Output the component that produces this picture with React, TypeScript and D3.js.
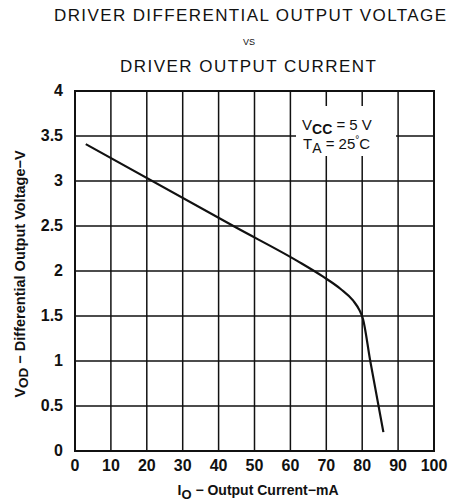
import React from "react";
import * as d3 from "d3";

const xTicks = [0, 10, 20, 30, 40, 50, 60, 70, 80, 90, 100];
const yTicks = [0, 0.5, 1, 1.5, 2, 2.5, 3, 3.5, 4];
const yTickLabels = ["0", "0.5", "1", "1.5", "2", "2.5", "3", "3.5", "4"];
const curveI = [3, 45, 62, 69, 74, 77.5, 79.3, 80.2, 82.2, 85.9];
const curveV = [3.41, 2.48, 2.11, 1.94, 1.8, 1.67, 1.56, 1.47, 1.01, 0.21];

const W = 451;
const H = 501;
const font = "'Liberation Sans', Arial, Helvetica, sans-serif";

export default function App() {
  const x = d3.scaleLinear().domain([0, 100]).range([75, 434]);
  const y = d3.scaleLinear().domain([0, 4]).range([451, 91]);
  const pts: [number, number][] = curveI.map((v, i) => [v, curveV[i]]);
  const line = d3
    .line<[number, number]>()
    .x((d) => x(d[0]))
    .y((d) => y(d[1]))
    .curve(d3.curveMonotoneX);

  return (
    <svg
      width={W}
      height={H}
      style={{ position: "absolute", left: 0, top: 0, background: "#fff" }}
      fontFamily={font}
    >
      <rect x={0} y={0} width={W} height={H} fill="#fff" />
      {/* Titles */}
      <text x={250} y={21} fontSize={17} textAnchor="middle" textLength={392} lengthAdjust="spacing" fill="#111">
        DRIVER DIFFERENTIAL OUTPUT VOLTAGE
      </text>
      <text x={249} y={45} fontSize={9} textAnchor="middle" fill="#111">
        VS
      </text>
      <text x={248} y={72} fontSize={17} textAnchor="middle" textLength={256} lengthAdjust="spacing" fill="#111">
        DRIVER OUTPUT CURRENT
      </text>

      {/* Grid */}
      {xTicks.map((t) => (
        <line key={"gx" + t} x1={x(t)} x2={x(t)} y1={y(4)} y2={y(0)} stroke="#111" strokeWidth={1.5} />
      ))}
      {yTicks.map((t) => (
        <line key={"gy" + t} x1={x(0)} x2={x(100)} y1={y(t)} y2={y(t)} stroke="#111" strokeWidth={1.5} />
      ))}
      <rect x={x(0)} y={y(4)} width={x(100) - x(0)} height={y(0) - y(4)} fill="none" stroke="#111" strokeWidth={2} />

      {/* Annotation background */}
      <rect x={296} y={106} width={100} height={50} fill="#fff" />
      <text x={302} y={130} fontSize={15} fill="#111">
        V<tspan fontSize={14} dy={4} fontWeight="bold">CC</tspan>
        <tspan dy={-4}> = 5 V</tspan>
      </text>
      <text x={303} y={149} fontSize={15} fill="#111">
        T<tspan fontSize={14} dy={4}>A</tspan>
        <tspan dy={-4}> = 25</tspan>
        <tspan fontSize={10} dy={-6}>°</tspan>
        <tspan dy={6}>C</tspan>
      </text>

      {/* Curve */}
      <path d={line(pts) || ""} fill="none" stroke="#111" strokeWidth={2.2} />

      {/* Y tick labels */}
      {yTicks.map((t, i) => (
        <text
          key={"yl" + t}
          x={63}
          y={y(t) + 5}
          fontSize={16}
          fontWeight="bold"
          textAnchor="end"
          fill="#111"
        >
          {yTickLabels[i]}
        </text>
      ))}
      {/* X tick labels */}
      {xTicks.map((t) => (
        <text
          key={"xl" + t}
          x={x(t)}
          y={471}
          fontSize={16}
          fontWeight="bold"
          textAnchor="middle"
          fill="#111"
        >
          {t}
        </text>
      ))}

      {/* Axis titles */}
      <text x={258} y={495} fontSize={14} fontWeight="bold" textAnchor="middle" fill="#111">
        I<tspan fontSize={13} dy={4}>O</tspan>
        <tspan dy={-4}> − Output Current−mA</tspan>
      </text>
      <text
        transform={`translate(25,${274}) rotate(-90)`}
        fontSize={14.5}
        fontWeight="bold"
        textAnchor="middle"
        fill="#111"
      >
        V<tspan fontSize={13.5} dy={3}>OD</tspan>
        <tspan dy={-3}> − Differential Output Voltage−V</tspan>
      </text>
    </svg>
  );
}
